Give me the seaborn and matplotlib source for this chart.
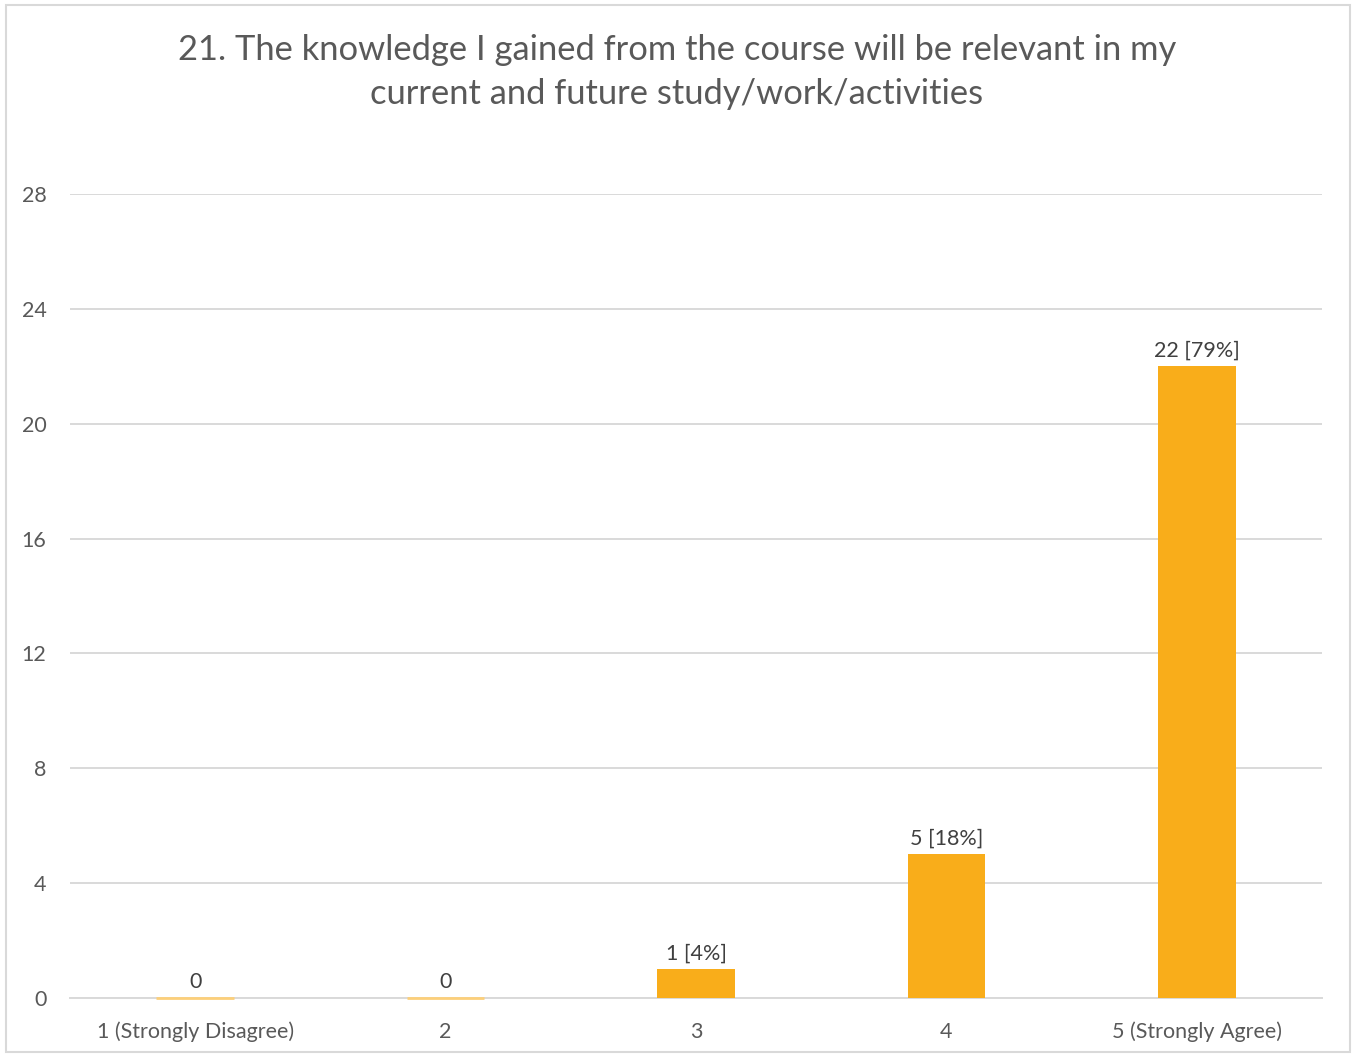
import matplotlib
matplotlib.use("Agg")
import matplotlib.pyplot as plt
import seaborn as sns
import pandas as pd
from matplotlib.patches import Rectangle

# Chart data
categories = ["1 (Strongly Disagree)", "2", "3", "4", "5 (Strongly Agree)"]
counts = [0, 0, 1, 5, 22]
bar_labels = ["0", "0", "1 [4%]", "5 [18%]", "22 [79%]"]
yticks = [0, 4, 8, 12, 16, 20, 24, 28]
title = ("21. The knowledge I gained from the course will be relevant in my\n"
         "current and future study/work/activities")

df = pd.DataFrame({"category": categories, "count": counts})

sns.set_theme(style="white")
plt.rcParams["font.family"] = ["Lato", "DejaVu Sans"]

bar_color = "#F9AD1A"
text_color = "#595959"
grid_color = "#D9D9D9"

fig = plt.figure(figsize=(13.54, 10.57), dpi=100)
ax = fig.add_axes([70 / 1354, 1 - 998 / 1057, (1322 - 70) / 1354, (998 - 194) / 1057])

sns.barplot(data=df, x="category", y="count", color=bar_color, width=0.31,
            saturation=1, ax=ax, zorder=3)

# zero-height bars still show as a thin line, as in Excel
for patch, v in zip(ax.patches, counts):
    if v == 0:
        patch.set_edgecolor("#FCCF7A")
        patch.set_linewidth(2)
        patch.set_zorder(5)
        patch.set_clip_on(False)
    else:
        patch.set_edgecolor("none")

ax.set_ylim(0, 28)
ax.set_yticks(yticks)
ax.yaxis.grid(True, color=grid_color, linewidth=1.4, zorder=0)
ax.set_axisbelow(True)
for side in ["top", "right", "left"]:
    ax.spines[side].set_visible(False)
ax.spines["bottom"].set_color(grid_color)
ax.spines["bottom"].set_linewidth(1.4)
ax.tick_params(axis="both", length=0, labelsize=15.5, labelcolor=text_color)
ax.tick_params(axis="y", pad=17)
ax.tick_params(axis="x", pad=17)
ax.set_xlabel("")
ax.set_ylabel("")

for i, (v, lab) in enumerate(zip(counts, bar_labels)):
    ax.annotate(lab, (i, v), xytext=(0, 4), textcoords="offset points",
                ha="center", va="bottom", fontsize=15.5, color="#404040")

fig.text(0.5, 1 - 72 / 1057, title, ha="center", va="center", fontsize=24.8,
         color=text_color, linespacing=1.45)

# light frame around the chart area
fig.patches.append(Rectangle((6 / 1354, 5 / 1057), 1344 / 1354, 1047 / 1057,
                             transform=fig.transFigure, fill=False,
                             edgecolor=grid_color, linewidth=1.5))

fig.savefig("out.png", dpi=100)
